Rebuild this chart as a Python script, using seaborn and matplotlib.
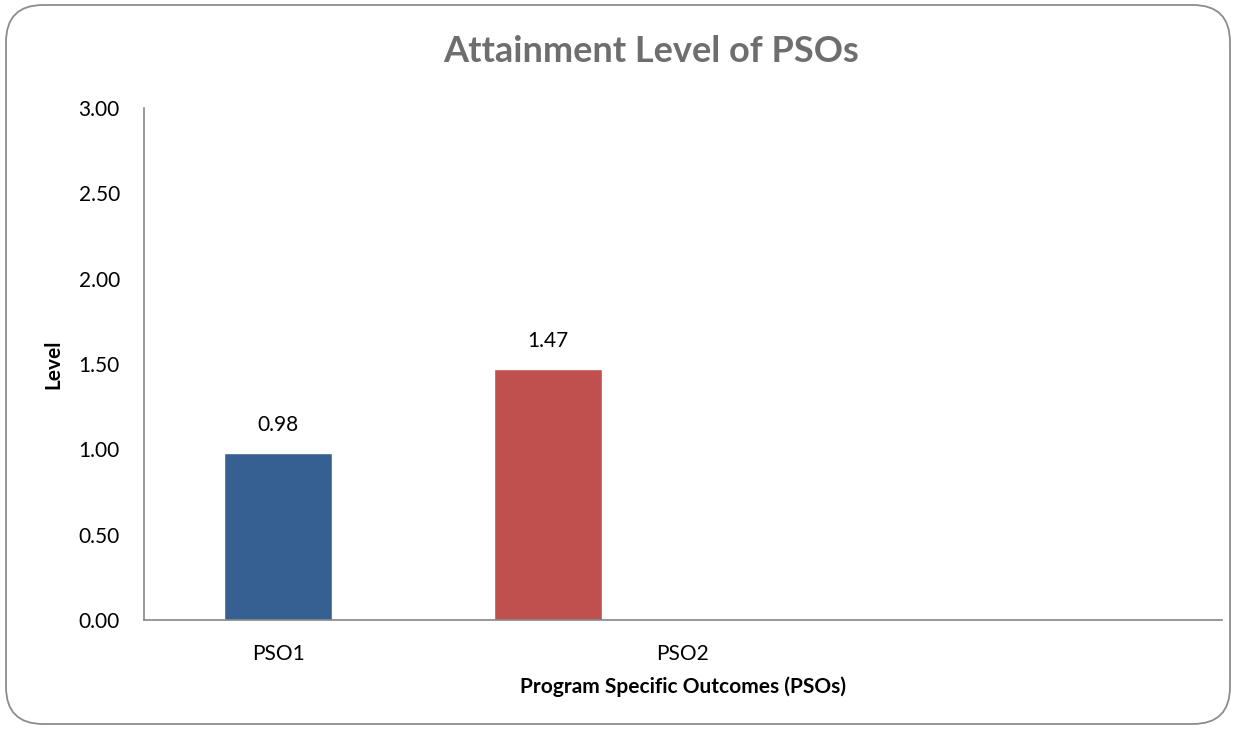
import matplotlib
matplotlib.use("Agg")
import matplotlib.pyplot as plt
import seaborn as sns
import pandas as pd
from matplotlib.patches import FancyBboxPatch

categories = ["PSO1", "PSO2", "slot3", "slot4"]
values = [0.98, 1.47]
bar_labels = ["0.98", "1.47"]
xtick_labels = ["PSO1", "PSO2"]
ytick_values = [0.0, 0.5, 1.0, 1.5, 2.0, 2.5, 3.0]
colors = ["#376092", "#C0504D"]

sns.set_theme(style="white")
plt.rcParams["font.family"] = ["Lato", "DejaVu Sans"]

fig = plt.figure(figsize=(12.36, 7.29), dpi=100)
ax = fig.add_axes([143.5/1236, 1-620/729, (1222-143.5)/1236, (620-108)/729])

df = pd.DataFrame({"cat": categories[:2], "val": values})
sns.barplot(data=df, x="cat", y="val", hue="cat", palette=colors, order=categories,
            width=0.4, legend=False, ax=ax, saturation=1)

ax.set_ylim(0, 3.0)
ax.set_xlim(-0.5, 3.5)
ax.set_yticks(ytick_values)
ax.set_yticklabels([f"{v:.2f}" for v in ytick_values], fontsize=15, color="#000000")
ax.set_xticks([0, 1.5])
ax.set_xticklabels(xtick_labels, fontsize=15, color="#000000")
ax.tick_params(axis="both", length=0)
ax.tick_params(axis="y", pad=17)
ax.tick_params(axis="x", pad=17)

for i, (v, t) in enumerate(zip(values, bar_labels)):
    ax.annotate(t, (i, v), xytext=(0, 13), textcoords="offset points",
                ha="center", va="bottom", fontsize=15, color="#000000")

for s in ["top", "right"]:
    ax.spines[s].set_visible(False)
for s in ["left", "bottom"]:
    ax.spines[s].set_color("#868686")
    ax.spines[s].set_linewidth(1.2)

ax.set_ylabel("Level", fontsize=15, fontweight="bold", color="#000000", labelpad=11)
ax.set_xlabel("Program Specific Outcomes (PSOs)", fontsize=15, fontweight="bold",
              color="#000000", labelpad=9)

fig.text(651/1236, 1-51/729, "Attainment Level of PSOs", ha="center", va="center",
         fontsize=26, fontweight="bold", color="#6E6E6E")

border = FancyBboxPatch((6/1236, 5/729), (1230-6)/1236, (724-5)/729,
                        boxstyle="round,pad=0,rounding_size=0.03",
                        transform=fig.transFigure, fill=False,
                        edgecolor="#8C8C8C", linewidth=1.3, mutation_aspect=1236/729)
fig.patches.append(border)

fig.savefig("out.png", dpi=100)
